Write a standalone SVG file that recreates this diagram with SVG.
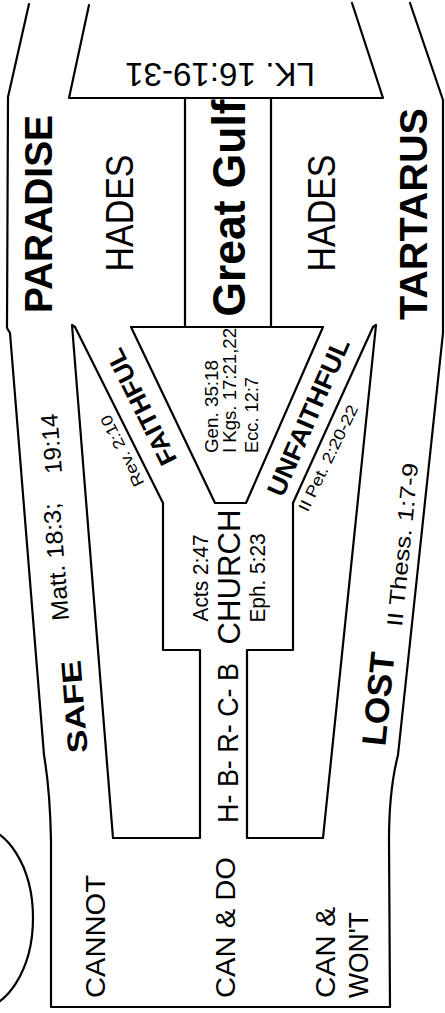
<svg xmlns="http://www.w3.org/2000/svg" width="445" height="1013" viewBox="0 0 445 1013">
<style>
.ln{fill:none;stroke:#000;stroke-width:2.2;stroke-linejoin:round;stroke-linecap:round}
.t{font-family:"Liberation Sans",Arial,sans-serif;fill:#000}
.b{font-weight:bold}
.m{text-anchor:middle}
.s{text-anchor:start}
</style>
<rect width="445" height="1013" fill="#fff"/>
<g id="outer">
<path class="ln" d="M29,4 L8,97 L7,328 L10,333 L44,755 Q50,790 51,840 L51,1007 L390,1007 L389,840 Q389,790 398,755 L443,333 L443,100 L410,3"/>
<ellipse class="ln" cx="-25" cy="918" rx="58" ry="92"/>
</g>
<g id="lk-trapezoid">
<path class="ln" d="M89,5 L69,98 L383,98 L352,3"/>
<text class="t m" font-size="34" textLength="190" lengthAdjust="spacingAndGlyphs" transform="translate(220,63) rotate(180)">LK. 16:19-31</text>
</g>
<g id="paradise">
<text class="t b m" font-size="38" textLength="198" lengthAdjust="spacingAndGlyphs" transform="translate(52,214) rotate(-90)">PARADISE</text>
<text class="t m" font-size="38" textLength="117" lengthAdjust="spacingAndGlyphs" transform="translate(133,213) rotate(-90)">HADES</text>
</g>
<g id="great-gulf">
<line class="ln" x1="185" y1="98" x2="185" y2="327"/>
<line class="ln" x1="271" y1="98" x2="271" y2="327" stroke-width="3"/>
<text class="t b m" font-size="46" textLength="217" lengthAdjust="spacingAndGlyphs" transform="translate(245,208) rotate(-90)">Great Gulf</text>
</g>
<g id="tartarus">
<text class="t m" font-size="38" textLength="117" lengthAdjust="spacingAndGlyphs" transform="translate(335,213) rotate(-90)">HADES</text>
<text class="t b m" font-size="39" textLength="212" lengthAdjust="spacingAndGlyphs" transform="translate(427,214) rotate(-90)">TARTARUS</text>
</g>
<g id="funnel">
<path class="ln" d="M131,327 L323,327 L246,503 L215,503 Z"/>
<text class="t s" font-size="19" textLength="93" lengthAdjust="spacingAndGlyphs" transform="translate(218,453) rotate(-90)">Gen.  35:18</text>
<text class="t s" font-size="19" textLength="125" lengthAdjust="spacingAndGlyphs" transform="translate(236,453) rotate(-90)">I Kgs.  17:21,22</text>
<text class="t s" font-size="19" textLength="76" lengthAdjust="spacingAndGlyphs" transform="translate(258,453) rotate(-90)">Ecc.  12:7</text>
</g>
<g id="safe-band">
<path class="ln" d="M75,327 L163,503"/>
<path class="ln" d="M75,327 L72,325 L113,838"/>
<text class="t b m" font-size="25" textLength="127" lengthAdjust="spacingAndGlyphs" transform="translate(141,407) rotate(-116.6)" y="9">FAITHFUL</text>
<text class="t m" font-size="16" textLength="78" lengthAdjust="spacingAndGlyphs" transform="translate(122,451) rotate(-116.6)" y="5.7">Rev.  2:10</text>
<text class="t b m" font-size="28" textLength="93" lengthAdjust="spacingAndGlyphs" transform="translate(84,706) rotate(-94.6)">SAFE</text>
<text class="t s" font-size="24" textLength="118" lengthAdjust="spacingAndGlyphs" transform="translate(69,620) rotate(-94.6)">Matt. 18:3;</text>
<text class="t s" font-size="24" textLength="60" lengthAdjust="spacingAndGlyphs" transform="translate(62,473) rotate(-94.6)">19:14</text>
</g>
<g id="lost-band">
<path class="ln" d="M373,327 L293,503"/>
<path class="ln" d="M373,327 L376,325 L323,838"/>
<text class="t b m" font-size="26" textLength="169" lengthAdjust="spacingAndGlyphs" transform="translate(308,417) rotate(-66.4)" y="9.3">UNFAITHFUL</text>
<text class="t m" font-size="16" textLength="116" lengthAdjust="spacingAndGlyphs" transform="translate(328,458) rotate(-64)" y="5.7">II Pet.  2:20-22</text>
<text class="t b m" font-size="34" textLength="94" lengthAdjust="spacingAndGlyphs" transform="translate(390,700) rotate(-84.3)">LOST</text>
<text class="t s" font-size="22" textLength="164" lengthAdjust="spacingAndGlyphs" transform="translate(402,627) rotate(-84.3)">II Thess.  1:7-9</text>
</g>
<g id="church">
<path class="ln" d="M163,503 L163,650 L200,650 L200,838 L113,838"/>
<path class="ln" d="M293,503 L293,650 L247,650 L247,838 L323,838"/>
<text class="t m" font-size="32" textLength="135" lengthAdjust="spacingAndGlyphs" transform="translate(240,577) rotate(-90)">CHURCH</text>
<text class="t m" font-size="22" textLength="87" lengthAdjust="spacingAndGlyphs" transform="translate(208,578) rotate(-90)">Acts 2:47</text>
<text class="t m" font-size="22" textLength="89" lengthAdjust="spacingAndGlyphs" transform="translate(265,578) rotate(-90)">Eph. 5:23</text>
<text class="t m" font-size="30" textLength="160" lengthAdjust="spacingAndGlyphs" transform="translate(238,743) rotate(-90)">H- B- R- C- B</text>
</g>
<g id="start">
<text class="t s" font-size="28" textLength="123" lengthAdjust="spacingAndGlyphs" transform="translate(105,998) rotate(-90)">CANNOT</text>
<text class="t s" font-size="28" textLength="141" lengthAdjust="spacingAndGlyphs" transform="translate(235,998) rotate(-90)">CAN &amp; DO</text>
<text class="t s" font-size="28" textLength="91" lengthAdjust="spacingAndGlyphs" transform="translate(335,998) rotate(-90)">CAN &amp;</text>
<text class="t s" font-size="28" textLength="86" lengthAdjust="spacingAndGlyphs" transform="translate(368,998) rotate(-90)">WON'T</text>
</g>
<g id="connectors"></g>
</svg>
